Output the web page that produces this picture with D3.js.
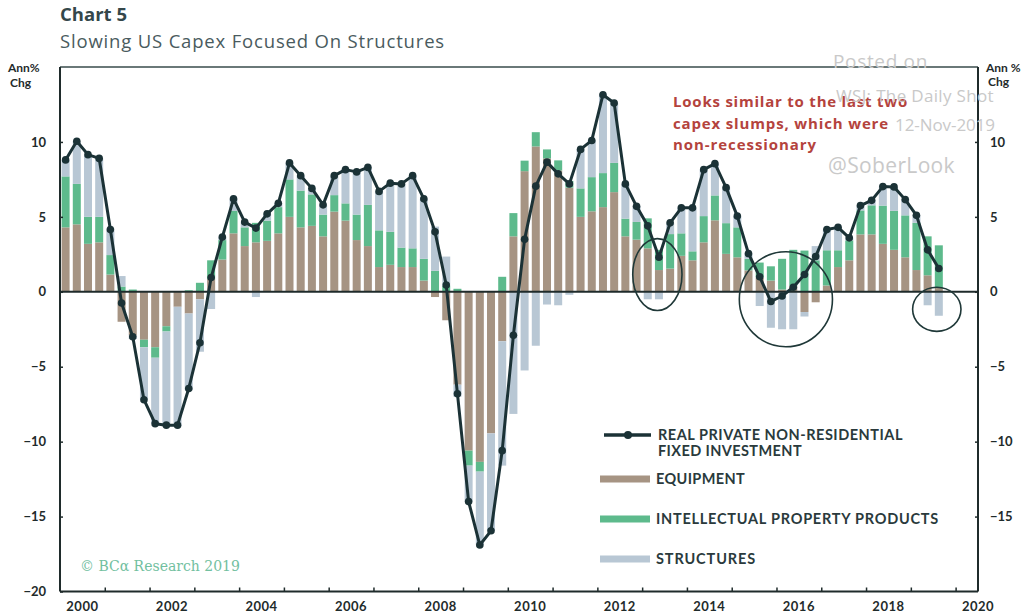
<!DOCTYPE html>
<html><head><meta charset="utf-8">
<script src="https://cdn.jsdelivr.net/npm/d3@7"></script>
<style>
body{margin:0;background:#fff;}
svg{display:block;font-family:"Open Sans",Lato,sans-serif;}
</style></head>
<body><svg id="c" width="1034" height="616"></svg>
<script>
// ---- data (quarterly, 2000Q1 .. 2019Q3), annualized % change contributions ----
const quarters = [];
for (let y = 2000; y <= 2019; y++) for (let q = 1; q <= 4; q++) { if (y === 2019 && q === 4) break; quarters.push(y + "Q" + q); }
const equipment = [4.3,4.5,3.2,3.3, 1.15,-2.0,-2.9,-3.2, -3.7,-2.3,-1.0,-1.45, -0.5,0.85,2.15,3.9,
  3.05,3.3,3.4,3.9, 5.0,4.3,4.4,3.7, 5.35,4.75,3.45,3.05, 1.65,1.8,1.65,1.65,
  0.75,-0.35,-1.9,-6.2, -10.6,-11.35,-9.45,-3.3, 3.7,8.05,9.7,8.9, 8.1,6.95,5.0,5.37,
  5.65,6.65,3.7,3.48, 2.9,1.45,1.55,2.4, 2.1,3.3,4.77,2.53, 2.3,1.43,0.95,0.75,
  0.15,0.4,-1.35,-0.7, 0.42,1.65,2.1,3.83, 3.83,3.2,2.8,2.3, 1.45,1.1,0.25];
const ipp = [3.4,2.7,1.8,1.7, 1.3,0.35,0.15,-0.5, -0.7,-0.35,0.05,0.1, 0.6,1.25,1.3,1.5,
  1.25,1.3,1.35,1.75, 2.5,2.45,2.1,1.45, 1.1,1.15,1.7,2.75, 2.45,2.2,1.3,1.25,
  1.45,1.4,0.4,0.2, -1.0,-0.65,0.0,1.0, 1.55,0.7,0.95,0.6, 0.67,0.45,1.9,2.28,
  2.27,1.95,1.18,1.18, 2.0,1.35,2.3,1.5, 0.6,1.75,1.66,2.05, 2.0,0.77,1.0,0.95,
  2.05,2.4,2.75,2.1, 2.35,1.12,1.33,1.6, 1.94,2.55,2.6,2.8, 3.15,2.6,2.85];
const structures = [1.1,2.8,4.15,3.9, 1.65,0.7,-0.25,-3.5, -4.4,-6.25,-7.95,-5.1, -3.5,-1.15,0.2,0.8,
  0.35,-0.35,0.45,0.25, 1.1,1.0,0.4,0.65, 1.3,2.25,2.85,2.5, 2.6,3.25,4.25,4.85,
  4.0,2.95,1.95,-0.8, -2.4,-4.9,-6.5,-8.3, -8.15,-5.25,-3.6,-0.85, -0.9,-0.2,2.6,2.45,
  5.23,4.0,2.32,1.04, -0.5,-0.5,0.75,1.7, 2.9,3.1,2.1,2.4, 0.75,0.35,-0.95,-2.4,
  -2.5,-2.5,-0.3,0.95, 1.37,1.5,0.17,0.32, 0.33,1.27,1.6,1.05, 0.5,-0.9,-1.6];
const total = [8.8,10.05,9.15,8.9, 4.15,-0.75,-3.0,-7.2, -8.8,-8.9,-8.9,-6.45, -3.4,0.95,3.65,6.2,
  4.65,4.25,5.2,5.9, 8.6,7.75,6.9,5.8, 7.75,8.15,8.0,8.3, 6.7,7.25,7.2,7.75,
  6.2,4.0,0.45,-6.8, -14.0,-16.9,-15.95,-10.6, -2.9,3.5,7.05,8.65, 7.87,7.2,9.5,10.1,
  13.15,12.6,7.2,5.7, 4.4,2.3,4.6,5.6, 5.6,8.15,8.55,6.95, 5.05,2.55,1.0,-0.65,
  -0.28,0.3,1.15,2.35, 4.15,4.3,3.6,5.75, 6.1,7.02,7.0,6.15, 5.1,2.8,1.55];
const yTicksLeft = [10,5,0,-5,-10,-15,-20];
const yTicksRight = [10,5,0,-5,-10,-15];
const xLabelYears = [2000,2002,2004,2006,2008,2010,2012,2014,2016,2018,2020];
const seriesNames = ["REAL PRIVATE NON-RESIDENTIAL|FIXED INVESTMENT","EQUIPMENT","INTELLECTUAL PROPERTY PRODUCTS","STRUCTURES"];
// highlighted slumps: [centre date, centre value, half-width in years, half-height in % pts]
const circledSlumps = [[2013.34,1.15,0.55,2.4],[2016.21,-0.5,1.04,3.17],[2019.58,-1.17,0.54,1.47]];

// ---- layout ----
const colors = {equipment:"#a69483", ipp:"#5dba8c", structures:"#b8c7d4", line:"#1b3236", axis:"#1f2b2b"};
const L = 60, R = 978, T = 67, B = 591.5;
const svg = d3.select("#c");
const x = d3.scaleLinear().domain([2000, 2020.5]).range([L, R]);
const y = d3.scaleLinear().domain([-20, 15]).range([B, T]);
const qPos = q => { const yr = +q.slice(0,4), n = +q.slice(5); return yr + (n-1)/4 + 0.125; };
function fit(sel, target) {
  const n = sel.text().length;
  const w = sel.node().getComputedTextLength();
  sel.style("letter-spacing", ((target - w) / n) + "px");
  return sel;
}

const rows = quarters.map((q,i) => ({q, t: qPos(q), equipment: equipment[i], ipp: ipp[i], structures: structures[i], total: total[i]}));
const stack = d3.stack().keys(["equipment","ipp","structures"]).offset(d3.stackOffsetDiverging)(rows);
const bw = 8;

const gBars = svg.append("g");
stack.forEach(s => {
  gBars.selectAll(null).data(s).enter().append("rect")
    .attr("x", d => x(d.data.t) - bw/2)
    .attr("width", bw)
    .attr("y", d => y(Math.max(d[0], d[1])))
    .attr("height", d => Math.abs(y(d[0]) - y(d[1])))
    .attr("fill", colors[s.key]);
});

// frame & axes
svg.append("line").attr("x1", L).attr("x2", R).attr("y1", T).attr("y2", T).attr("stroke", "#6a7878").attr("stroke-width", 2);
svg.append("line").attr("x1", L).attr("x2", R).attr("y1", y(0)).attr("y2", y(0)).attr("stroke", colors.axis).attr("stroke-width", 2);

const axL = d3.axisLeft(y).tickValues(yTicksLeft).tickSize(-3).tickPadding(14).tickFormat(d3.format("d"));
const gL = svg.append("g").attr("transform", `translate(${L},0)`).call(axL);
const axR = d3.axisRight(y).tickValues(yTicksRight).tickSize(-3).tickPadding(12).tickFormat(d3.format("d"));
const gR = svg.append("g").attr("transform", `translate(${R},0)`).call(axR);
const axB = d3.axisBottom(x).tickValues(d3.range(2001, 2021)).tickSize(-4).tickFormat("");
const gB = svg.append("g").attr("transform", `translate(0,${B})`).call(axB);
[gL, gR, gB].forEach(g => {
  g.select(".domain").attr("stroke", colors.axis).attr("stroke-width", 2);
  g.selectAll(".tick line").attr("stroke", colors.axis).attr("stroke-width", 1.5);
  g.selectAll("text").attr("fill", "#1f2b2b").style("font-size", "13px").style("font-weight", "700").style("font-family", "Lato, sans-serif");
});
gL.select(".domain").attr("d", `M0,${T}V${B}`);
gR.select(".domain").attr("d", `M0,${T}V${B}`);
gB.select(".domain").attr("d", `M${L},0H${R}`);

svg.append("g").selectAll("text").data(xLabelYears).enter().append("text")
  .attr("x", d => x(d + 0.5)).attr("y", 611).attr("text-anchor", "middle")
  .attr("fill", "#1f2b2b").style("font-size", "13px").style("font-weight", "700").style("font-family", "Lato, sans-serif")
  .style("letter-spacing", "0.5px")
  .text(d => d);

// axis titles
const axTitle = (xx) => svg.append("text").attr("x", xx).attr("y", 72)
    .attr("fill", "#1f2b2b").style("font-size", "12px").style("font-weight", "700").style("font-family", "Lato, sans-serif");
axTitle(8).text("Ann%");
axTitle(10).attr("y", 87).text("Chg");
axTitle(986).text("Ann %");
axTitle(988).attr("y", 86).text("Chg");

// total line
const line = d3.line().x(d => x(d.t)).y(d => y(d.total));
svg.append("path").datum(rows).attr("d", line).attr("fill", "none").attr("stroke", colors.line).attr("stroke-width", 3).attr("stroke-linejoin", "round");
svg.append("g").selectAll("circle").data(rows).enter().append("circle")
  .attr("cx", d => x(d.t)).attr("cy", d => y(d.total)).attr("r", 3.8).attr("fill", colors.line);

// ellipses
svg.append("g").selectAll("ellipse").data(circledSlumps).enter().append("ellipse")
  .attr("cx", d => x(d[0])).attr("cy", d => y(d[1]))
  .attr("rx", d => x(d[0] + d[2]) - x(d[0])).attr("ry", d => y(d[1] - d[3]) - y(d[1]))
  .attr("fill", "none").attr("stroke", "#1f3838").attr("stroke-width", 1.6);

// titles
fit(svg.append("text").attr("x", 60).attr("y", 21).attr("fill", "#34474a").style("font-size", "18.5px").style("font-weight", "700").text("Chart 5"), 67);
fit(svg.append("text").attr("x", 60).attr("y", 48).attr("fill", "#4a5b5e").style("font-size", "18.5px").text("Slowing US Capex Focused On Structures"), 385);

// annotation
const ann = ["Looks similar to the last two", "capex slumps, which were", "non-recessionary"];
const annW = [235, 216, 144];
svg.append("g").selectAll("text").data(ann).enter().append("text")
  .attr("x", 673).attr("y", (d,i) => 107 + i*21.5).attr("fill", "#b4433d")
  .style("font-size", "15px").style("font-weight", "700").text(d => d)
  .each(function(d,i){ fit(d3.select(this), annW[i]); });

// legend
const lg = svg.append("g").style("font-family", "Lato, sans-serif").style("font-weight", "700").style("font-size", "14.5px");
lg.append("line").attr("x1", 604).attr("x2", 651).attr("y1", 435).attr("y2", 435).attr("stroke", colors.line).attr("stroke-width", 3.5);
lg.append("circle").attr("cx", 628).attr("cy", 435).attr("r", 4).attr("fill", colors.line);
const t0 = seriesNames[0].split("|");
fit(lg.append("text").attr("x", 658).attr("y", 440).attr("fill", "#2a3a3c").text(t0[0]), 245);
fit(lg.append("text").attr("x", 658).attr("y", 456).attr("fill", "#2a3a3c").text(t0[1]), 144);
const lgW = [89, 283, 100];
[["equipment",479],["ipp",519],["structures",559]].forEach((k,i) => {
  lg.append("rect").attr("x", 600).attr("y", k[1]-3.5).attr("width", 50).attr("height", 7).attr("fill", colors[k[0]]);
  fit(lg.append("text").attr("x", 656).attr("y", k[1]+5).attr("fill", "#2a3a3c").text(seriesNames[i+1]), lgW[i]);
});

// copyright
svg.append("text").attr("x", 80).attr("y", 571).attr("fill", "#72c0a0").style("font-family", "'DejaVu Serif', 'Liberation Serif', serif").style("font-size", "14px").text("© BCα Research 2019");

// watermark
const wm = svg.append("g").attr("fill", "#c9c9c9");
fit(wm.append("text").attr("x", 833).attr("y", 68).style("font-size", "19px").text("Posted on"), 95);
fit(wm.append("text").attr("x", 836).attr("y", 102).style("font-size", "17px").text("WSJ: The Daily Shot"), 158);
fit(wm.append("text").attr("x", 895).attr("y", 131).style("font-size", "17px").text("12-Nov-2019"), 100);
fit(wm.append("text").attr("x", 828).attr("y", 173).style("font-size", "21px").text("@SoberLook"), 127);
</script></body></html>
